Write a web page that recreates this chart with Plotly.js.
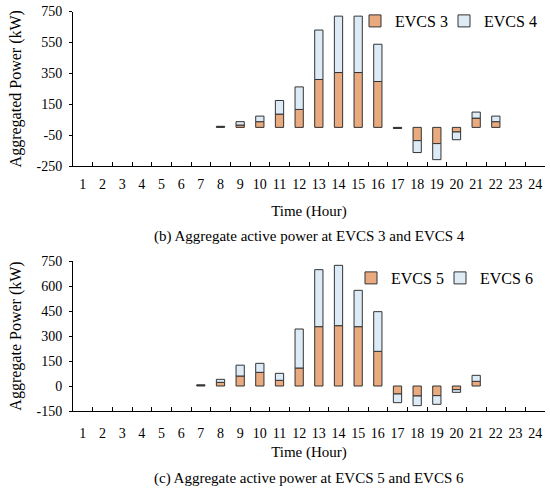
<!DOCTYPE html>
<html>
<head>
<meta charset="utf-8">
<script src="https://cdn.plot.ly/plotly-3.0.1.min.js"></script>
<style>html,body{margin:0;padding:0;background:#fff;}#chart{width:550px;height:492px;}</style>
</head>
<body>
<div id="chart"></div>
<script>
// Hours (categories)
const hours = ["1","2","3","4","5","6","7","8","9","10","11","12","13","14","15","16","17","18","19","20","21","22","23","24"];
// (b) EVCS 3 and EVCS 4 aggregate power (kW)
const evcs3 = [null,null,null,null,null,null,null,4,15,37,86,116,310,355,355,297,-4,-86,-105,-30,60,37,null,null];
const evcs4 = [null,null,null,null,null,null,null,3,22,36,88,146,320,365,365,241,-3,-77,-104,-50,39,36,null,null];
// (c) EVCS 5 and EVCS 6 aggregate power (kW)
const evcs5 = [null,null,null,null,null,null,4,22,60,82,34,108,356,362,356,208,-48,-60,-58,-22,28,null,null,null];
const evcs6 = [null,null,null,null,null,null,3,18,65,54,42,234,342,362,218,238,-52,-58,-52,-16,36,null,null,null];
// Axis ticks
const ticksTop = [-250,-50,150,350,550,750];
const ticksBottom = [-150,0,150,300,450,600,750];
const names = ["EVCS 3","EVCS 4","EVCS 5","EVCS 6"];
const captions = ["(b) Aggregate active power at EVCS 3 and EVCS 4","(c) Aggregate active power at EVCS 5 and EVCS 6"];

const ORANGE = "#E9AA80", BLUE = "#DDEBF7", EDGE = "#333333";
const FONT = "Liberation Serif, Times New Roman, serif";

function bar(y, name, color, xa, ya, leg) {
  return {type:"bar", x:hours, y:y, name:name, xaxis:xa, yaxis:ya, legend:leg,
    marker:{color:color, line:{color:EDGE, width:1}}, hoverinfo:"x+y+name"};
}
const data = [
  bar(evcs3, names[0], ORANGE, "x", "y", "legend"),
  bar(evcs4, names[1], BLUE, "x", "y", "legend2"),
  bar(evcs5, names[2], ORANGE, "x2", "y2", "legend3"),
  bar(evcs6, names[3], BLUE, "x2", "y2", "legend4")
];

function xax(anchor, labelOff, standoff) {
  return {type:"category", categoryorder:"array", categoryarray:hours, anchor:anchor,
    range:[-0.5,23.5], tickson:"boundaries", ticks:"inside", ticklen:4, tickcolor:"#000",
    showline:true, linecolor:"#000", linewidth:1, showgrid:false, zeroline:false, tickangle:0,
    tickfont:{family:FONT, size:14, color:"#000"}, ticklabelstandoff:labelOff,
    title:{text:"Time (Hour)", font:{family:FONT, size:15, color:"#000"}, standoff:standoff},
    automargin:false, fixedrange:true};
}
function yax(anchor, domain, range, tv, title) {
  return {domain:domain, anchor:anchor, range:range, tickvals:tv, ticktext:tv.map(String),
    ticks:"outside", ticklen:3, tickcolor:"#000", showline:true, linecolor:"#000", linewidth:1,
    showgrid:false, zeroline:false, tickfont:{family:FONT, size:14, color:"#000"}, ticklabelstandoff:4,
    title:{text:title, font:{family:FONT, size:16, color:"#000"}, standoff:10},
    automargin:false, fixedrange:true};
}
function leg(xpx, ypx) {
  return {x:(xpx-73)/472, y:1-ypx/492, xanchor:"left", yanchor:"middle", orientation:"v",
    bgcolor:"rgba(0,0,0,0)", borderwidth:0, itemwidth:30,
    font:{family:FONT, size:16, color:"#000"}, itemclick:false, itemdoubleclick:false};
}

const layout = {
  width:550, height:492, margin:{l:73, r:5, t:0, b:0},
  paper_bgcolor:"#fff", plot_bgcolor:"#fff",
  barmode:"relative", bargap:0.58, showlegend:true,
  xaxis: xax("y", 5, 14),
  xaxis2: xax("y2", 9, 6),
  yaxis: yax("x", [1-166/492, 1-11.5/492], [-250,750], ticksTop, "Aggregated Power (kW)"),
  yaxis2: yax("x2", [1-411/492, 1-261/492], [-150,750], ticksBottom, "Aggregate Power (kW)"),
  legend: leg(355, 21),
  legend2: leg(444, 21),
  legend3: leg(351, 278),
  legend4: leg(440, 278),
  annotations: [
    {text:captions[0], xref:"paper", yref:"paper", x:0.5, y:1-236/492, xanchor:"center", yanchor:"middle", showarrow:false, font:{family:FONT, size:15, color:"#000"}},
    {text:captions[1], xref:"paper", yref:"paper", x:0.5, y:1-478/492, xanchor:"center", yanchor:"middle", showarrow:false, font:{family:FONT, size:15, color:"#000"}}
  ]
};
Plotly.newPlot("chart", data, layout, {displayModeBar:false, staticPlot:true});
</script>
</body>
</html>
